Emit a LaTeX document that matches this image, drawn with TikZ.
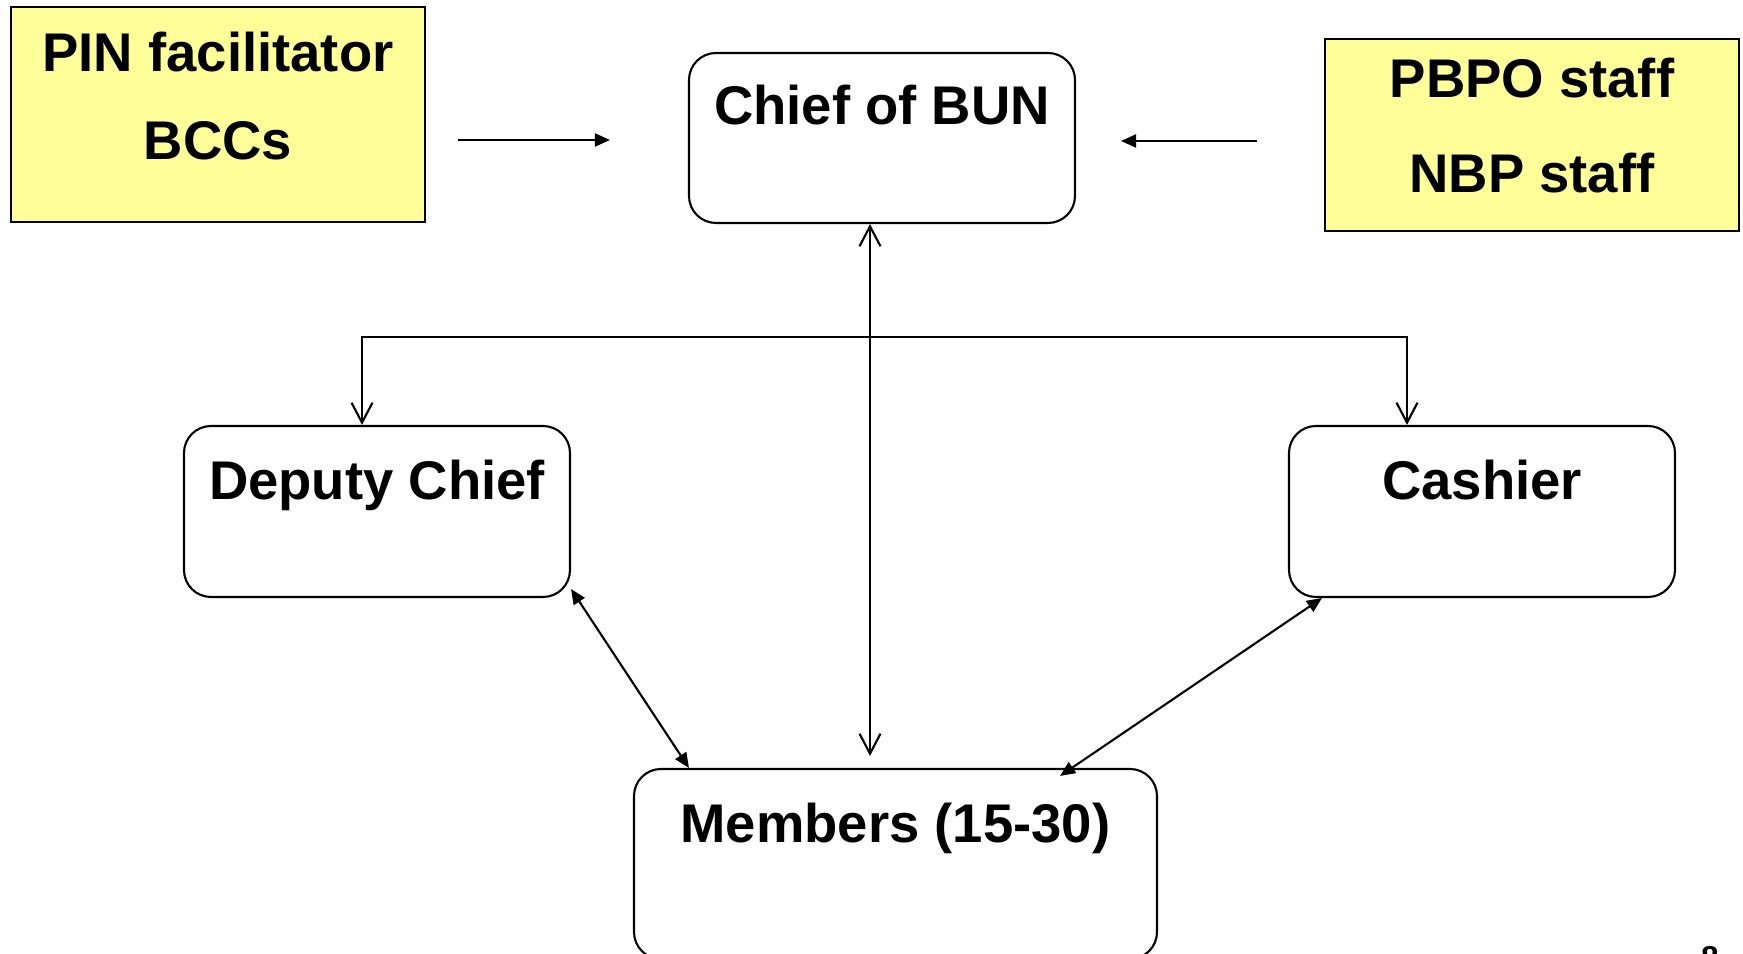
\documentclass[tikz,border=0pt]{standalone}
\usepackage{fontspec}
\setmainfont{Liberation Sans}
\usetikzlibrary{arrows.meta}
\definecolor{noteyellow}{HTML}{FFFF99}

\begin{document}
\begin{tikzpicture}[>={Triangle[length=1.5mm,width=1.3mm]},line width=0.6pt,
        font=\fontsize{15.5pt}{18.6pt}\selectfont\bfseries,
        box/.style={draw,rounded corners=0.27cm,inner sep=0pt,minimum width=3.86cm},
        note/.style={draw,fill=noteyellow,inner sep=0pt,minimum width=4.14cm,align=center},
        barb/.style={>={Straight Barb[length=2mm,width=2.1mm]}}]
    \useasboundingbox (0,0) rectangle (17.43,-9.54);
    \clip (0,0) rectangle (17.43,-9.54);

    % outside helpers
    \node[note,text height=1.53cm,text depth=0.62cm] (pin) at (2.18,-1.145) {PIN facilitator\\[6.7pt]BCCs};
    \node[note,text height=1.54cm,text depth=0.38cm] (pbpo) at (15.32,-1.35) {PBPO staff\\[8.7pt]NBP staff};

    % the unit
    \node[box,text height=0.72cm,text depth=0.98cm] (chief) at (8.82,-1.38) {Chief of BUN};
    \node[box,text height=0.74cm,text depth=0.97cm] (deputy) at (3.77,-5.115) {Deputy Chief};
    \node[box,text height=0.74cm,text depth=0.97cm] (cashier) at (14.82,-5.115) {Cashier};
    \node[box,minimum width=5.23cm,text height=0.74cm,text depth=1.16cm] (members) at (8.955,-8.64) {Members (15-30)};
    \node[font=\fontsize{9pt}{11pt}\selectfont\bfseries,inner sep=0pt,anchor=base] (page) at (17.10,-9.69) {8};

    \coordinate (split) at (8.70,-3.37);

    \draw[->,shorten <=0.32cm,shorten >=0.78cm] ([yshift=-0.2mm]pin.east |- chief.west) -- ([yshift=-0.2mm]chief.west);
    \draw[->,shorten <=0.67cm,shorten >=0.45cm] ([yshift=-0.3mm]pbpo.west |- chief.east) -- ([yshift=-0.3mm]chief.east);
    \draw[barb,<->,shorten >=1.2mm] ([xshift=-1.2mm]chief.south) -- ([xshift=-1.2mm]chief.south |- members.north);
    \draw[barb,->] (split) -| ([xshift=-1.5mm]deputy.north);
    \draw[barb,->] (split) -| ([xshift=-7.5mm]cashier.north);
    \draw[<->] ([yshift=0.9mm]deputy.south east) -- ([xshift=5.6mm]members.north west);
    \draw[<->] ([xshift=3.4mm]cashier.south west) -- ([xshift=-9.8mm,yshift=-0.8mm]members.north east);
\end{tikzpicture}
\end{document}
